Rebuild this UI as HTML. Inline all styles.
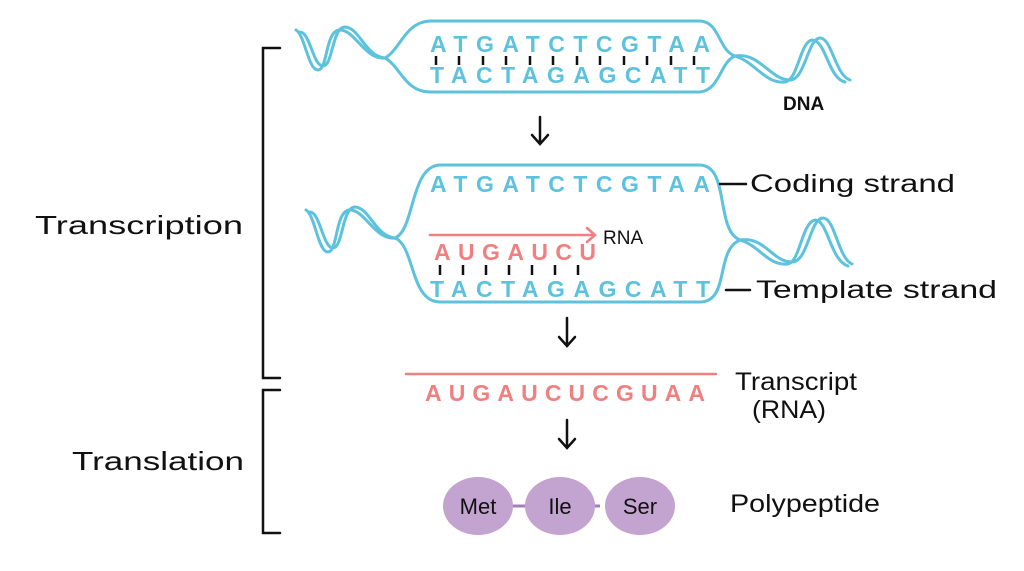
<!DOCTYPE html>
<html><head><meta charset="utf-8"><style>
html,body{margin:0;padding:0;background:#fff;}
svg{display:block;}
text{font-family:"Liberation Sans",sans-serif;}
.b{fill:#5cc2dd;font-size:23px;font-weight:bold;}
.p{fill:#f07f80;font-size:23px;font-weight:bold;}
.k{fill:#111;font-size:25px;}
</style></head><body>
<svg width="1024" height="571" viewBox="0 0 1024 571" xmlns="http://www.w3.org/2000/svg">
<g fill="none" stroke="#5cc2dd" stroke-width="3" stroke-linecap="round">
<path d="M385,58 C400,50 405,22 430,21 L700,21 C720,22 718,50 735,56 C720,62 720,90 700,92 L430,92 C405,92 400,66 385,58 Z"/>
<path d="M385,58 C365,60 355,30 340,30 C325,30 328,70 318,70 C308,70 305,35 296,30"/>
<path d="M385,58 C365,56 360,28 345,27 C332,27 333,66 323,66 C313,66 310,32 300,32"/>
<path d="M735,56 C760,52 770,80 790,80 C805,80 808,38 820,38 C832,38 835,75 850,80"/>
<path d="M735,56 C755,62 765,84 785,82 C798,80 800,42 812,40 C826,40 828,78 845,82"/>
<path d="M395,238 C415,230 410,166 440,165 L700,165 C730,166 715,230 740,240 C715,250 730,302 700,302 L440,302 C410,302 415,246 395,238 Z"/>
<path d="M395,238 C375,240 365,210 350,210 C335,210 338,252 328,252 C318,252 315,215 306,210"/>
<path d="M395,238 C375,236 370,208 355,207 C342,207 343,248 333,248 C323,248 320,212 310,212"/>
<path d="M740,240 C765,236 772,262 792,262 C808,262 810,218 823,218 C835,218 838,258 852,264"/>
<path d="M740,240 C760,246 768,266 788,264 C800,262 802,222 815,220 C828,220 830,260 848,266"/>
</g>
<text class="b" x="430" y="52" textLength="280" lengthAdjust="spacing">ATGATCTCGTAA</text>
<text class="b" x="430" y="83" textLength="280" lengthAdjust="spacing">TACTAGAGCATT</text>
<g stroke="#111" stroke-width="2.5">
<path d="M436,56v9M459,56v9M483,56v9M506,56v9M530,56v9M553,56v9M577,56v9M600,56v9M624,56v9M647,56v9M671,56v9M694,56v9"/>
</g>
<text class="k" x="783" y="110" style="font-size:19px;font-weight:bold">DNA</text>
<g stroke="#111" stroke-width="2.5" fill="none" stroke-linecap="round">
<path d="M540,117v26M532,135l8,9l8,-9"/>
<path d="M567,318v27M559,337l8,9l8,-9"/>
<path d="M567,420v27M559,439l8,9l8,-9"/>
<path d="M720,184h26M726,290h24"/>
<path d="M280,48h-17v330h17M280,390h-17v143h17"/>
</g>
<text class="b" x="430" y="192" textLength="280" lengthAdjust="spacing">ATGATCTCGTAA</text>
<text class="b" x="430" y="297" textLength="280" lengthAdjust="spacing">TACTAGAGCATT</text>
<text class="p" x="434" y="260" textLength="162" lengthAdjust="spacing">AUGAUCU</text>
<g stroke="#111" stroke-width="2.5"><path d="M440,265v10M463,265v10M486,265v10M509,265v10M532,265v10M555,265v10M578,265v10"/></g>
<g stroke="#f07f80" stroke-width="2.5" fill="none" stroke-linecap="round">
<path d="M430,235h165M587,228l8,7l-8,7"/>
<path d="M406,374h310"/>
</g>
<text class="k" x="603" y="244" style="font-size:19px">RNA</text>
<text class="k" x="750" y="192" textLength="205" lengthAdjust="spacingAndGlyphs">Coding strand</text>
<text class="k" x="756" y="298" textLength="241" lengthAdjust="spacingAndGlyphs">Template strand</text>
<text class="p" x="425" y="401" textLength="280" lengthAdjust="spacing">AUGAUCUCGUAA</text>
<text class="k" x="735" y="390" textLength="122" lengthAdjust="spacingAndGlyphs">Transcript</text>
<text class="k" x="752" y="418" textLength="74" lengthAdjust="spacingAndGlyphs">(RNA)</text>
<path d="M510,506h90" stroke="#a47fb7" stroke-width="3"/>
<g fill="#c3a3cf">
<ellipse cx="478" cy="506" rx="35" ry="29"/>
<ellipse cx="560" cy="506" rx="35" ry="29"/>
<ellipse cx="640" cy="506" rx="35" ry="29"/>
</g>
<text class="k" x="478" y="514" text-anchor="middle" style="font-size:22px">Met</text>
<text class="k" x="560" y="514" text-anchor="middle" style="font-size:22px">Ile</text>
<text class="k" x="640" y="514" text-anchor="middle" style="font-size:22px">Ser</text>
<text class="k" x="730" y="512" textLength="150" lengthAdjust="spacingAndGlyphs">Polypeptide</text>
<text class="k" x="35" y="234" style="font-size:26px" textLength="208" lengthAdjust="spacingAndGlyphs">Transcription</text>
<text class="k" x="72" y="470" style="font-size:26px" textLength="172" lengthAdjust="spacingAndGlyphs">Translation</text>
</svg>
</body></html>
